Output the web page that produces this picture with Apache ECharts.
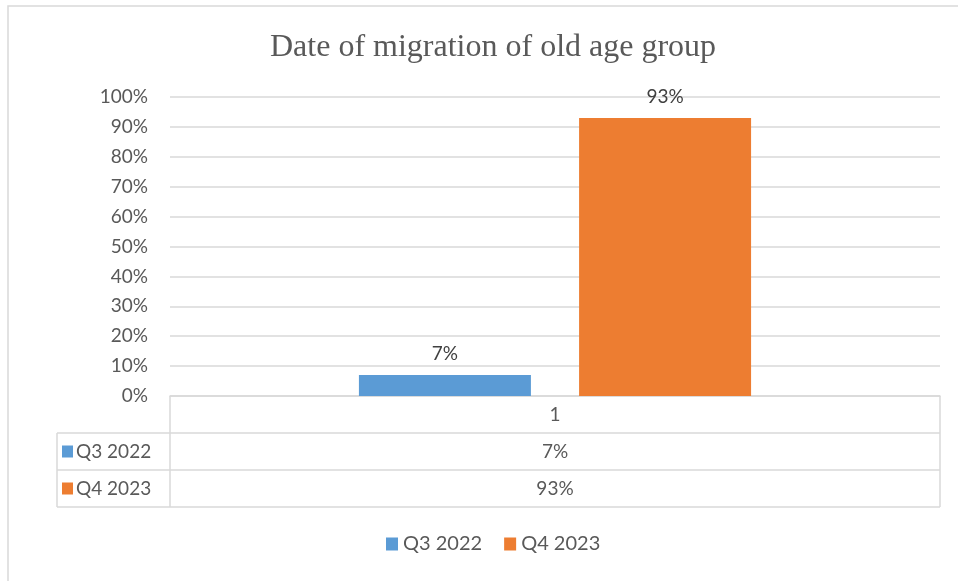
<!DOCTYPE html>
<html><head><meta charset="utf-8">
<script src="https://cdn.jsdelivr.net/npm/echarts@6/dist/echarts.min.js"></script>
<style>html,body{margin:0;padding:0;background:#fff}#c{width:958px;height:581px}</style>
</head><body><div id="c"></div>
<script>
const categories = ['1'];
const seriesNames = ['Q3 2022', 'Q4 2023'];
const q3_2022 = [0.07];
const q4_2023 = [0.93];
const seriesColors = ['#5B9BD5', '#ED7D31'];
const titleText = 'Date of migration of old age group';

const pct = v => Math.round(v * 100) + '%';
const font = 'Lato, "Open Sans", sans-serif';
const chart = echarts.init(document.getElementById('c'));
const allData = [q3_2022, q4_2023];

const option = {
  animation: false,
  backgroundColor: '#fff',
  title: { text: titleText, left: 265, top: 27,
    textStyle: { fontFamily: '"Liberation Serif", "Times New Roman", serif', fontSize: 32, fontWeight: 'normal', color: '#595959' } },
  grid: { left: 170, right: 18, top: 97, bottom: 185 },
  legend: { bottom: 22, left: 381, itemWidth: 12, itemHeight: 13, icon: 'rect', itemGap: 22,
    textStyle: { fontFamily: font, fontSize: 20, color: '#595959' }, data: seriesNames },
  xAxis: { type: 'category', data: categories,
    axisLine: { show: true, lineStyle: { color: '#d9d9d9', width: 1.5 } },
    axisTick: { show: false },
    axisLabel: { margin: 0, fontFamily: font, fontSize: 19, color: '#595959', lineHeight: 37,
      formatter: (v, i) => [v].concat(allData.map(d => pct(d[i]))).join('\n') } },
  yAxis: { type: 'value', min: 0, max: 1, interval: 0.1,
    axisLabel: { formatter: pct, margin: 22, fontFamily: font, fontSize: 19, color: '#595959' },
    splitLine: { lineStyle: { color: '#d9d9d9', width: 1.5 } },
    axisLine: { show: false }, axisTick: { show: false } },
  series: allData.map((d, i) => ({
    name: seriesNames[i], type: 'bar', data: d, barWidth: 172, barGap: '28%',
    itemStyle: { color: seriesColors[i] },
    label: { show: true, position: 'top', distance: 12, formatter: p => pct(p.value),
      fontFamily: font, fontSize: 19, color: '#404040' }
  }))
};
chart.setOption(option);

// table frame and row headers
const gl = 170, gr = 958 - 18, gy = chart.convertToPixel({ yAxisIndex: 0 }, 0);
const rowH = 37, leftX = 57;
const lc = { stroke: '#d9d9d9', lineWidth: 1.5 };
const els = [
  { type: 'rect', shape: { x: 8, y: 6, width: 1000, height: 1000 }, style: { fill: 'none', stroke: '#d9d9d9', lineWidth: 1.5 }, z: -1 },
  { type: 'line', shape: { x1: gl, y1: gy, x2: gl, y2: gy + rowH * 3 }, style: lc },
  { type: 'line', shape: { x1: gr, y1: gy, x2: gr, y2: gy + rowH * 3 }, style: lc },
  { type: 'line', shape: { x1: leftX, y1: gy + rowH, x2: leftX, y2: gy + rowH * 3 }, style: lc }
];
for (let r = 1; r <= 3; r++) {
  els.push({ type: 'line', shape: { x1: leftX, y1: gy + rowH * r, x2: gr, y2: gy + rowH * r }, style: lc });
}
seriesNames.forEach((n, i) => {
  const cy = gy + rowH * (i + 1) + rowH / 2;
  els.push({ type: 'rect', shape: { x: 62, y: cy - 6, width: 11, height: 12 }, style: { fill: seriesColors[i] } });
  els.push({ type: 'text', x: 76, y: cy, style: { text: n, fontFamily: font, fontSize: 19, fill: '#595959', verticalAlign: 'middle', textAlign: 'left' } });
});
chart.setOption({ graphic: { elements: els } });
</script></body></html>
